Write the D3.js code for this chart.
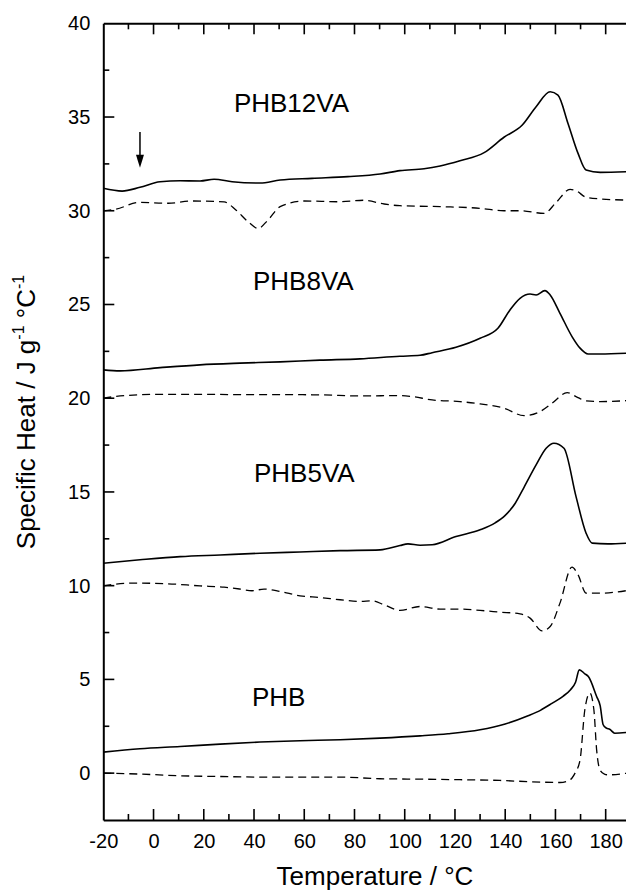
<!DOCTYPE html>
<html><head><meta charset="utf-8">
<script src="https://cdn.jsdelivr.net/npm/d3@7"></script>
<style>
html,body{margin:0;padding:0;background:#fff;}
svg{display:block;font-family:"Liberation Sans",Arial,sans-serif;}
</style></head>
<body>
<svg id="chart" width="626" height="892"></svg>
<script>
// ---- data (temperature °C, specific heat J g^-1 °C^-1, curves offset as plotted) ----
const phb12vaSolidT = [-20,-12.5,-5.4,2.6,10.6,18.5,24.1,31.3,42.4,50.4,63.1,77.4,90.2,98.1,107.7,114.1,122.0,131.6,139.5,146.7,152.3,157.9,161.0,165.0,169.0,172.2,177.8,188.6];
const phb12vaSolidV = [31.2,31.05,31.25,31.55,31.6,31.59,31.68,31.55,31.48,31.64,31.73,31.82,31.96,32.14,32.24,32.39,32.67,33.1,33.92,34.56,35.55,36.35,36.17,34.66,33.06,32.17,32.05,32.08];
const phb12vaDashT = [-20,-14.9,-5.4,5.8,15.3,28.1,32.8,37.6,41.6,45.6,50.4,59.9,74.2,83.8,91.8,98.1,114.1,130.0,139.5,145.9,155.5,160.2,165.8,168.2,172.2,177.8,188.6];
const phb12vaDashV = [29.99,30.09,30.45,30.4,30.52,30.47,30.04,29.42,29.06,29.51,30.22,30.52,30.48,30.56,30.36,30.27,30.22,30.13,30.0,30.0,29.86,30.43,31.14,31.07,30.72,30.63,30.57];

const phb8vaSolidT = [-20,-13.3,2.6,18.5,34.4,50.4,66.3,82.2,98.1,106.1,110.9,120.4,130.0,137.1,141.9,145.9,149.9,152.3,155.8,157.9,161.8,166.6,169.8,173.0,177.8,188.6];
const phb8vaSolidV = [21.51,21.46,21.63,21.78,21.87,21.94,22.03,22.1,22.24,22.29,22.43,22.72,23.2,23.73,24.71,25.33,25.56,25.51,25.74,25.51,24.53,23.29,22.67,22.36,22.36,22.4];
const phb8vaDashT = [-20,-13.3,2.6,18.5,34.4,50.4,66.3,82.2,98.1,102.9,110.9,122.0,130.0,139.5,147.5,153.9,158.6,164.7,168.2,172.2,177.8,188.6];
const phb8vaDashV = [20.0,20.12,20.21,20.21,20.19,20.19,20.18,20.12,20.14,20.09,19.91,19.82,19.7,19.47,19.07,19.29,19.73,20.3,20.09,19.86,19.82,19.87];

const phb5vaSolidT = [-20,-5.4,10.6,26.5,42.4,58.3,74.3,90.2,98.1,101.3,106.1,110.9,120.4,130.0,136.0,140.0,144.0,147.5,152.3,156.3,159.4,163.4,168.2,172.2,174.6,180.9,188.6];
const phb5vaSolidV = [11.2,11.38,11.55,11.64,11.73,11.8,11.87,11.91,12.14,12.23,12.16,12.18,12.62,12.98,13.35,13.75,14.4,15.25,16.44,17.33,17.6,17.33,14.75,12.8,12.27,12.23,12.27];
const phb5vaDashT = [-20,-8.5,5.8,18.5,28.1,34.4,39.2,44.0,50.4,58.3,66.3,74.3,82.2,87.0,91.8,98.1,106.1,114.1,122.0,130.0,137.9,145.9,149.9,154.7,157.9,161.8,166.6,169.0,172.2,177.8,188.6];
const phb5vaDashV = [9.99,10.14,10.1,9.99,9.92,9.82,9.73,9.82,9.69,9.46,9.37,9.25,9.16,9.19,8.98,8.68,8.89,8.75,8.75,8.68,8.59,8.5,8.27,7.59,7.82,9.07,10.99,10.58,9.6,9.6,9.74];

const phbSolidT = [-20,-5.4,10.6,26.5,42.4,58.3,74.3,90.2,106.1,117.2,130.0,140.0,149.1,154.0,158.6,163.0,166.0,168.0,169.5,171.7,173.1,176.4,177.8,179.0,180.3,181.6,183.6,188.6];
const phbSolidV = [1.12,1.3,1.42,1.55,1.66,1.73,1.78,1.87,1.99,2.1,2.31,2.62,3.06,3.35,3.72,4.1,4.45,4.85,5.51,5.3,5.15,4.09,3.6,2.58,2.4,2.34,2.13,2.17];
const phbDashT = [-20,-5.4,10.6,26.5,42.4,58.3,74.3,90.2,106.1,122.0,137.9,153.9,161.8,164.5,166.6,167.8,169.8,171.7,173.7,175.3,176.4,177.7,179.5,181.0,188.6];
const phbDashV = [0,-0.05,-0.14,-0.18,-0.21,-0.21,-0.21,-0.3,-0.32,-0.35,-0.39,-0.48,-0.5,-0.44,-0.26,0,0.71,3.38,4.27,3.38,1.24,0.18,-0.05,-0.09,0];

const sampleNames = ["PHB12VA","PHB8VA","PHB5VA","PHB"];
const labelT = [32.0, 39.6, 40.0, 39.2];
const labelV = [35.27, 25.78, 15.54, 3.59];

const xTicks = [-20,0,20,40,60,80,100,120,140,160,180];
const xMinorTicks = [-10,10,30,50,70,90,110,130,150,170,190];
const yTicks = [0,5,10,15,20,25,30,35,40];
const yMinorTicks = [2.5,7.5,12.5,17.5,22.5,27.5,32.5,37.5];

// arrow marker (glass transition) in data coordinates
const arrowT = -5.4, arrowFromV = 34.2, arrowToV = 32.3;

// ---- drawing ----
const svg = d3.select("#chart");
const x = d3.scaleLinear().domain([-20, 190]).range([103.3, 630.8]);
const y = d3.scaleLinear().domain([-2.5, 40]).range([820, 23.3]);
const fmt = d => String(d); // plain hyphen-minus as in the reference

const zip = (T, V) => T.map((t, i) => [t, V[i]]);
const series = [
  {pts: zip(phb12vaSolidT, phb12vaSolidV), dash: false},
  {pts: zip(phb12vaDashT, phb12vaDashV), dash: true},
  {pts: zip(phb8vaSolidT, phb8vaSolidV), dash: false},
  {pts: zip(phb8vaDashT, phb8vaDashV), dash: true},
  {pts: zip(phb5vaSolidT, phb5vaSolidV), dash: false},
  {pts: zip(phb5vaDashT, phb5vaDashV), dash: true},
  {pts: zip(phbSolidT, phbSolidV), dash: false},
  {pts: zip(phbDashT, phbDashV), dash: true}
];

const line = d3.line().x(d => x(d[0])).y(d => y(d[1])).curve(d3.curveMonotoneX);

svg.append("g").selectAll("path").data(series).join("path")
  .attr("d", d => line(d.pts))
  .attr("fill", "none")
  .attr("stroke", "#000")
  .attr("stroke-width", d => d.dash ? 1.3 : 1.6)
  .attr("stroke-dasharray", d => d.dash ? "8,5" : null);

// axes
const axisG = svg.append("g");
const bottomAxis = axisG.append("g").attr("transform", `translate(0,${y(-2.5)})`)
  .call(d3.axisBottom(x).tickValues(xTicks).tickSize(0).tickPadding(14).tickFormat(fmt));
const topAxis = axisG.append("g").attr("transform", `translate(0,${y(40)})`)
  .call(d3.axisTop(x).tickValues(xTicks).tickSize(0).tickFormat(""));
const leftAxis = axisG.append("g").attr("transform", `translate(${x(-20)},0)`)
  .call(d3.axisLeft(y).tickValues(yTicks).tickSize(0).tickPadding(13).tickFormat(fmt));

[bottomAxis, topAxis, leftAxis].forEach(g => {
  g.select(".domain").attr("stroke", "#000").attr("stroke-width", 2);
  g.selectAll("text").attr("font-size", 20).attr("fill", "#000").attr("font-family", '"Liberation Sans",Arial,sans-serif');
});

// inward ticks
const tickG = svg.append("g").attr("stroke", "#000").attr("stroke-width", 1.6);
const majorLen = 11, minorLen = 6;
const xAll = xTicks.concat(xMinorTicks).filter(t => t > -20 && t < 190);
tickG.append("g").selectAll("line").data(xAll).join("line")
  .attr("x1", d => x(d)).attr("x2", d => x(d))
  .attr("y1", y(-2.5)).attr("y2", d => y(-2.5) - (xTicks.includes(d) ? majorLen : minorLen));
tickG.append("g").selectAll("line").data(xAll).join("line")
  .attr("x1", d => x(d)).attr("x2", d => x(d))
  .attr("y1", y(40)).attr("y2", d => y(40) + (xTicks.includes(d) ? majorLen : minorLen));
tickG.append("g").selectAll("line").data(yTicks.concat(yMinorTicks).filter(v => v < 40)).join("line")
  .attr("y1", d => y(d)).attr("y2", d => y(d))
  .attr("x1", x(-20)).attr("x2", d => x(-20) + (yTicks.includes(d) ? majorLen : minorLen));

// sample labels
svg.append("g").selectAll("text").data(sampleNames).join("text")
  .attr("x", (d, i) => x(labelT[i]))
  .attr("y", (d, i) => y(labelV[i]))
  .attr("font-size", 26)
  .attr("fill", "#000")
  .text(d => d);

// arrow
svg.append("line")
  .attr("x1", x(arrowT)).attr("x2", x(arrowT))
  .attr("y1", y(arrowFromV)).attr("y2", y(arrowToV) - 10)
  .attr("stroke", "#000").attr("stroke-width", 1.5);
const ax = x(arrowT), ay = y(arrowToV);
svg.append("path")
  .attr("d", `M${ax},${ay} L${ax - 4},${ay - 13} L${ax + 4},${ay - 13} Z`)
  .attr("fill", "#000");

// axis titles
svg.append("text")
  .attr("x", 375).attr("y", 885)
  .attr("text-anchor", "middle").attr("font-size", 26).attr("fill", "#000")
  .text("Temperature / °C");

const yt = svg.append("text")
  .attr("transform", "translate(35,412) rotate(-90)")
  .attr("text-anchor", "middle").attr("font-size", 26).attr("fill", "#000");
yt.append("tspan").text("Specific Heat / J g");
yt.append("tspan").attr("font-size", 16).attr("dy", -11).text("-1");
yt.append("tspan").attr("dy", 11).text(" °C");
yt.append("tspan").attr("font-size", 16).attr("dy", -11).text("-1");
</script>
</body></html>
